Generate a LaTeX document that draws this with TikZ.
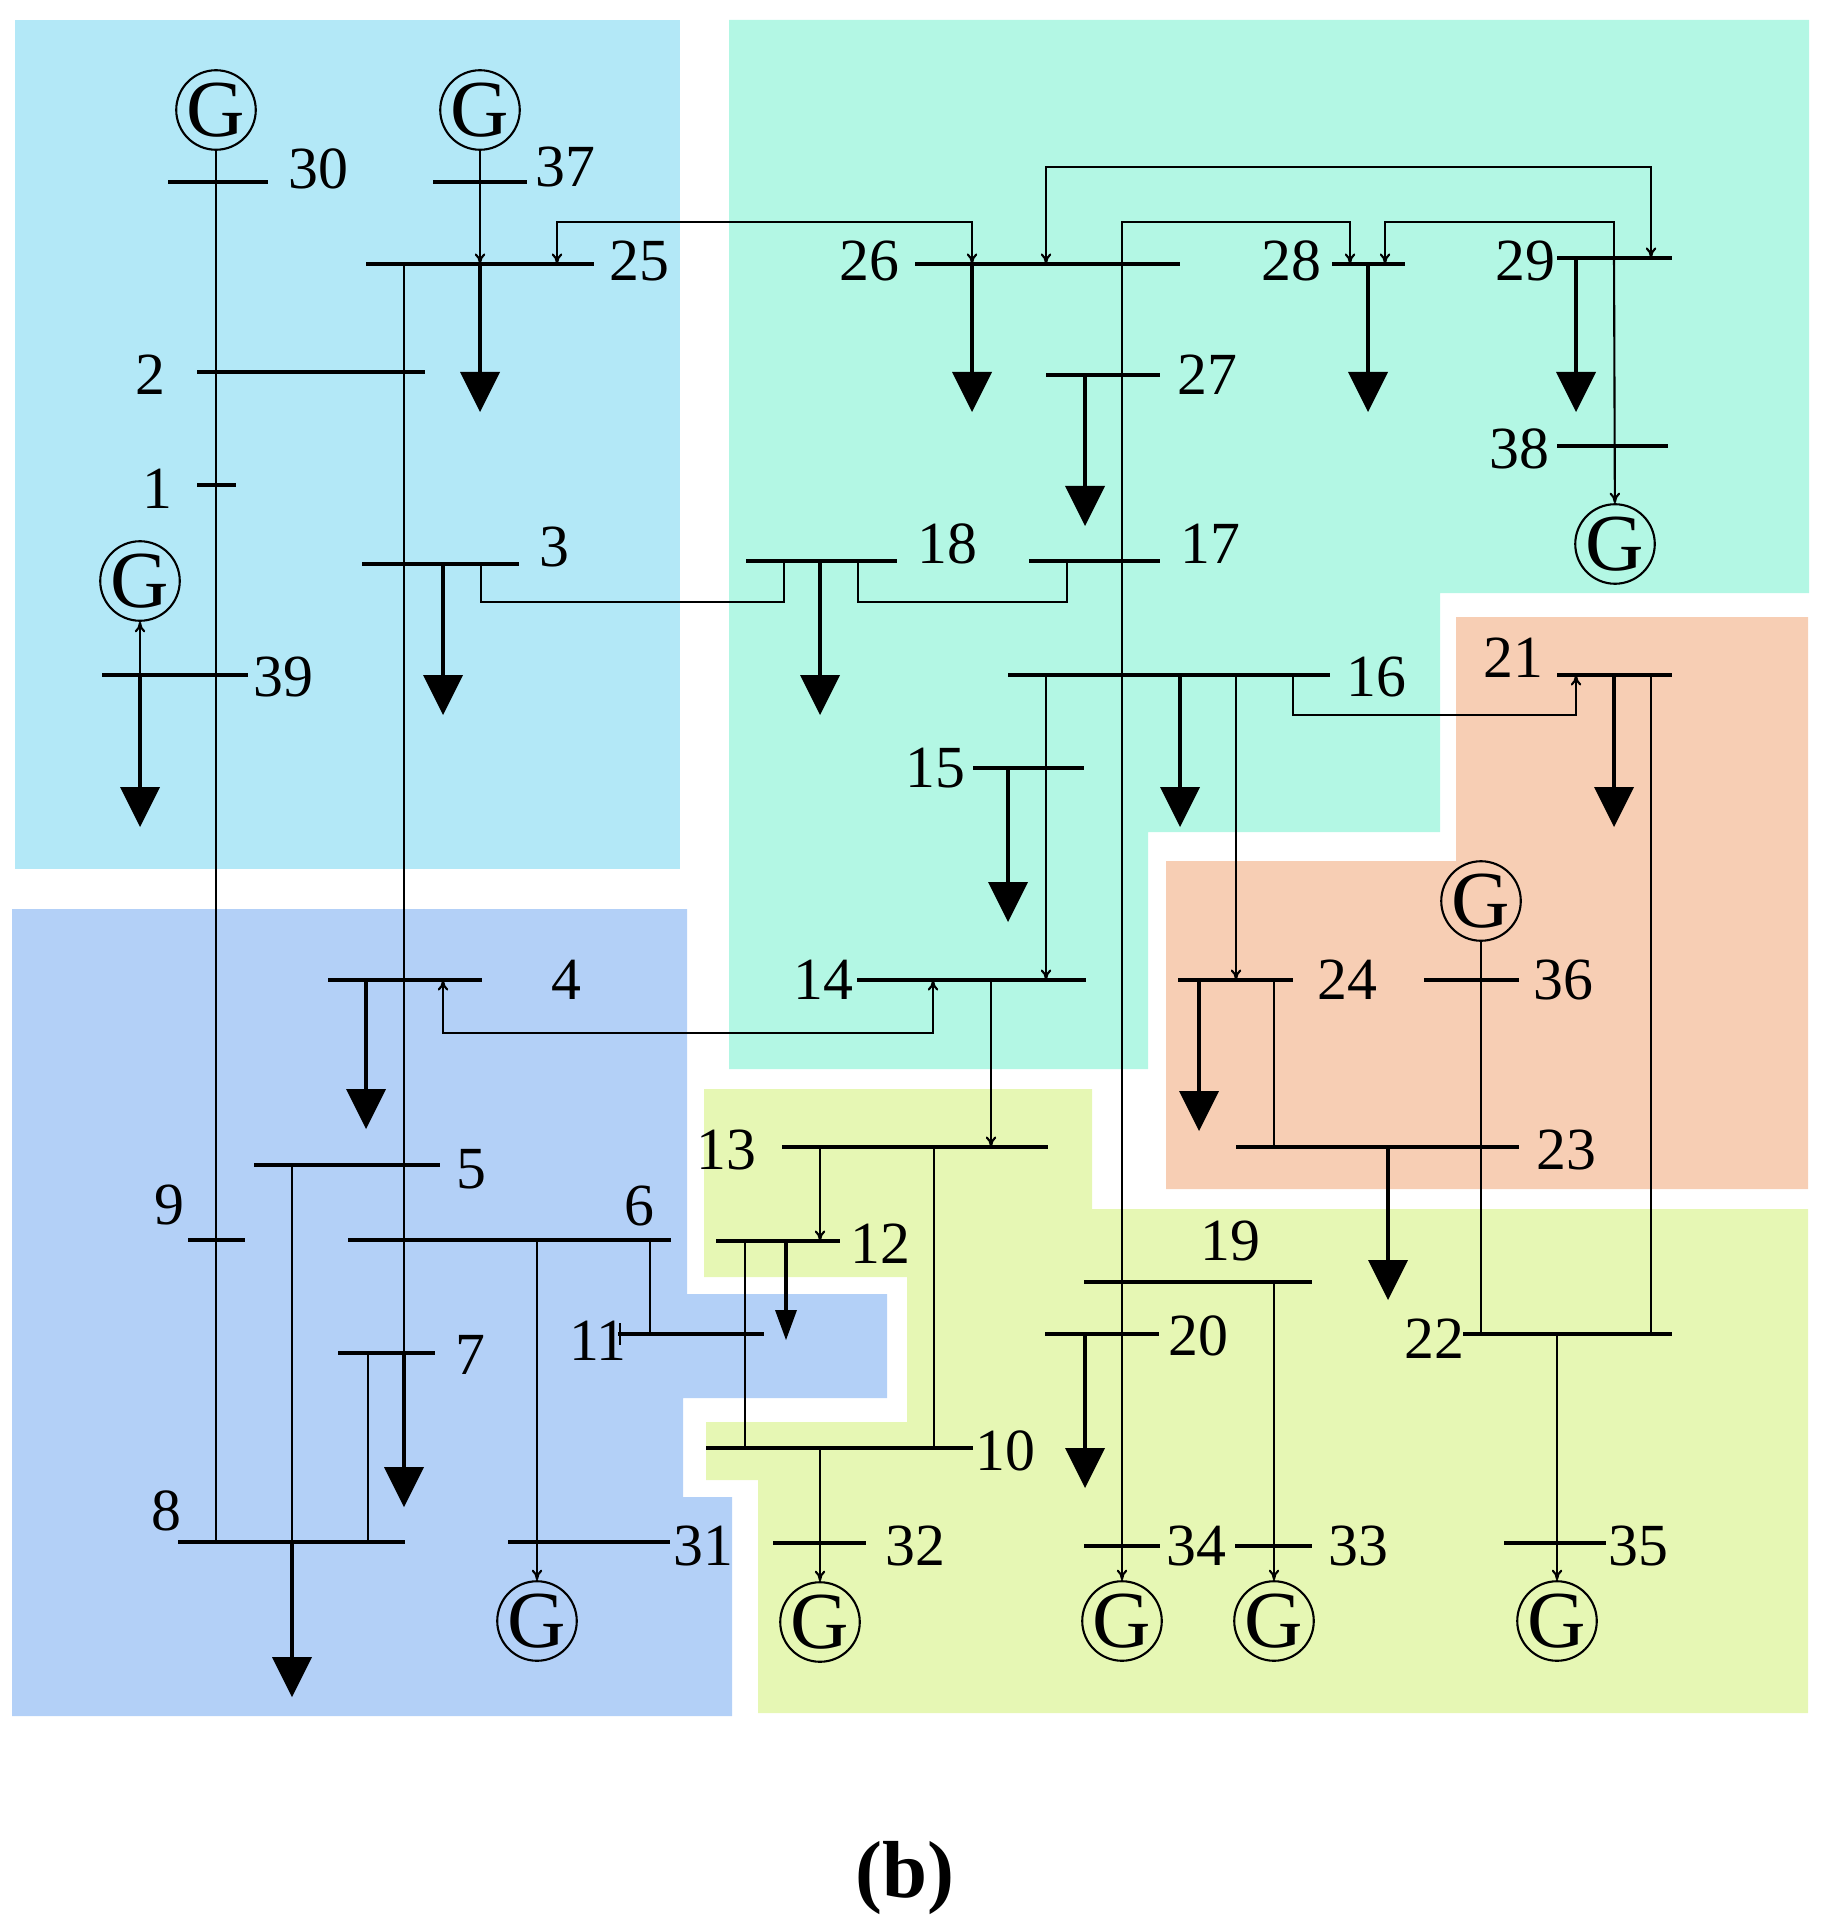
\documentclass[tikz,border=0pt]{standalone}
\usepackage{fontspec}
\setmainfont{Liberation Serif}
\usetikzlibrary{arrows.meta}
\definecolor{cA}{RGB}{179,232,247}
\definecolor{cB}{RGB}{179,247,228}
\definecolor{cC}{RGB}{247,206,180}
\definecolor{cD}{RGB}{179,208,247}
\definecolor{cE}{RGB}{230,247,180}
\newcommand\bs[3]{\draw[bus] (#1,#3) -- (#2,#3);}
\newcommand\ld[3]{\draw[line width=1.4pt] (#1,#2) -- (#1,{#3-34}); \fill ({#1-20},{#3-40}) -- ({#1+20},{#3-40}) -- (#1,#3) -- cycle;}
\newcommand\gn[3]{\node[gen] (#1) at (#2,#3) {G};}
\newcommand\lb[3]{\node[lab] at (#1,#2) {#3};}
\begin{document}
\begin{tikzpicture}[x=0.01cm,y=-0.01cm,
  bus/.style={line width=1.4pt},
  ln/.style={line width=0.6pt},
  tip/.style={-{To[length=3pt,width=3pt]}},
  tt/.style={{To[length=3pt,width=3pt]}-{To[length=3pt,width=3pt]}},
  gen/.style={circle,draw,line width=0.6pt,minimum size=0.78cm,inner sep=0pt,font=\fontsize{23}{23}\selectfont},
  lab/.style={font=\fontsize{17}{17}\selectfont,inner sep=0pt}]
\useasboundingbox (0,0) rectangle (1830,1928);
% regions
\fill[cA] (15,20) rectangle (680,869);
\fill[cB] (729,20) -- (1809,20) -- (1809,593) -- (1440,593) -- (1440,832) -- (1148,832) -- (1148,1069) -- (729,1069) -- cycle;
\fill[cC] (1456,617) -- (1808,617) -- (1808,1189) -- (1166,1189) -- (1166,861) -- (1456,861) -- cycle;
\fill[cD] (12,909) -- (687,909) -- (687,1294) -- (887,1294) -- (887,1398) -- (683,1398) -- (683,1497) -- (732,1497) -- (732,1716) -- (12,1716) -- cycle;
\fill[cE] (704,1089) -- (1092,1089) -- (1092,1209) -- (1808,1209) -- (1808,1713) -- (758,1713) -- (758,1480) -- (706,1480) -- (706,1422) -- (907,1422) -- (907,1277) -- (704,1277) -- cycle;
% generators
\gn{g30}{216}{110} \gn{g37}{480}{110} \gn{g39}{140}{581} \gn{g38}{1615}{544}
\gn{g36}{1481}{901} \gn{g31}{537}{1621} \gn{g32}{820}{1622} \gn{g34}{1122}{1621}
\gn{g33}{1274}{1621} \gn{g35}{1557}{1621}
% thin lines
\draw[ln] (g30) -- (216,1542);
\draw[ln,tip] (g37) -- (480,264);
\draw[ln] (404,264) -- (404,1353);
\draw[ln,tip] (140,675) -- (g39);
\draw[ln,tt] (557,264) -- (557,222) -- (972,222) -- (972,264);
\draw[ln,tt] (1046,264) -- (1046,167) -- (1651,167) -- (1651,258);
\draw[ln,tip] (1122,1541) |- (1350,222) -- (1350,264);
\draw[ln,tip] (1122,1541) -- (g34);
\draw[ln,{To[length=3pt,width=3pt]}-] (1385,264) -- (1385,222) -- (1614,222) -- (1614,258);
\draw[ln,tip] (1614,258) -- (g38);
\draw[ln] (481,564) -- (481,602) -- (784,602) -- (784,561);
\draw[ln] (858,561) -- (858,602) -- (1067,602) -- (1067,561);
\draw[ln,tip] (1046,675) -- (1046,980);
\draw[ln,tip] (1236,675) -- (1236,980);
\draw[ln,tip] (1293,675) -- (1293,715) -- (1576,715) -- (1576,675);
\draw[ln] (1651,675) -- (1651,1334);
\draw[ln] (g36) -- (1481,1334);
\draw[ln] (1274,980) -- (1274,1147);
\draw[ln,tt] (443,980) -- (443,1033) -- (933,1033) -- (933,980);
\draw[ln,tip] (991,980) -- (991,1147);
\draw[ln,tip] (820,1147) -- (820,1241);
\draw[ln] (934,1147) -- (934,1448);
\draw[ln] (745,1241) -- (745,1448);
\draw[ln] (292,1165) -- (292,1542);
\draw[ln] (368,1353) -- (368,1542);
\draw[ln,tip] (537,1240) -- (g31);
\draw[ln] (650,1240) -- (650,1334);
\draw[ln,tip] (820,1448) -- (g32);
\draw[ln,tip] (1274,1282) -- (g33);
\draw[ln,tip] (1557,1334) -- (g35);
% buses
\bs{168}{268}{182} \bs{433}{527}{182} \bs{366}{594}{264}
\bs{197}{425}{372} \bs{197}{236}{485} \bs{102}{248}{675} \bs{362}{519}{564}
\bs{746}{897}{561} \bs{915}{1180}{264} \bs{1046}{1160}{375} \bs{1029}{1160}{561}
\bs{1332}{1405}{264} \bs{1557}{1672}{258} \bs{1557}{1668}{446}
\bs{973}{1084}{768} \bs{1008}{1330}{675} \bs{1557}{1672}{675}
\bs{328}{482}{980} \bs{857}{1086}{980} \bs{1178}{1293}{980} \bs{1424}{1519}{980}
\bs{254}{440}{1165} \bs{782}{1048}{1147} \bs{1236}{1519}{1147}
\bs{188}{245}{1240} \bs{348}{671}{1240} \bs{716}{840}{1241} \bs{1084}{1312}{1282}
\bs{618}{764}{1334} \bs{1045}{1159}{1334} \bs{1463}{1672}{1334} \bs{338}{435}{1353}
\bs{706}{973}{1448}
\bs{178}{405}{1542} \bs{508}{670}{1542} \bs{773}{866}{1543}
\bs{1084}{1160}{1546} \bs{1235}{1312}{1546} \bs{1504}{1606}{1543}
\draw[ln] (620,1323) -- (620,1345);
% loads
\ld{480}{264}{412} \ld{140}{675}{827} \ld{443}{564}{715} \ld{820}{561}{715}
\ld{972}{264}{412} \ld{1085}{375}{526} \ld{1368}{264}{412} \ld{1576}{258}{412}
\ld{1008}{768}{922} \ld{1180}{675}{827} \ld{1614}{675}{827}
\ld{366}{980}{1129} \ld{1199}{980}{1131} \ld{1388}{1147}{1300}
\ld{404}{1353}{1507} \ld{292}{1542}{1697} \ld{1085}{1334}{1488}
\draw[line width=1.2pt] (786,1241) -- (786,1316);
\fill (775,1310) -- (797,1310) -- (786,1340) -- cycle;
% labels
\lb{318}{169}{30} \lb{565}{167}{37} \lb{639}{261}{25} \lb{869}{261}{26}
\lb{150}{375}{2} \lb{157}{489}{1} \lb{283}{677}{39} \lb{554}{547}{3}
\lb{947}{544}{18} \lb{1207}{375}{27} \lb{1210}{544}{17} \lb{1291}{261}{28}
\lb{1525}{261}{29} \lb{1519}{449}{38} \lb{935}{768}{15} \lb{1376}{677}{16}
\lb{1513}{658}{21} \lb{566}{980}{4} \lb{823}{980}{14} \lb{1347}{980}{24}
\lb{1563}{980}{36} \lb{471}{1169}{5} \lb{169}{1205}{9} \lb{639}{1206}{6}
\lb{726}{1150}{13} \lb{880}{1244}{12} \lb{1566}{1150}{23} \lb{1230}{1241}{19}
\lb{598}{1341}{11} \lb{470}{1355}{7} \lb{1198}{1336}{20} \lb{1434}{1339}{22}
\lb{1005}{1451}{10} \lb{166}{1511}{8} \lb{703}{1546}{31} \lb{915}{1546}{32}
\lb{1196}{1546}{34} \lb{1358}{1546}{33} \lb{1638}{1546}{35}
\node[font=\fontsize{23}{23}\selectfont\bfseries] at (905,1878) {(b)};
\end{tikzpicture}
\end{document}
